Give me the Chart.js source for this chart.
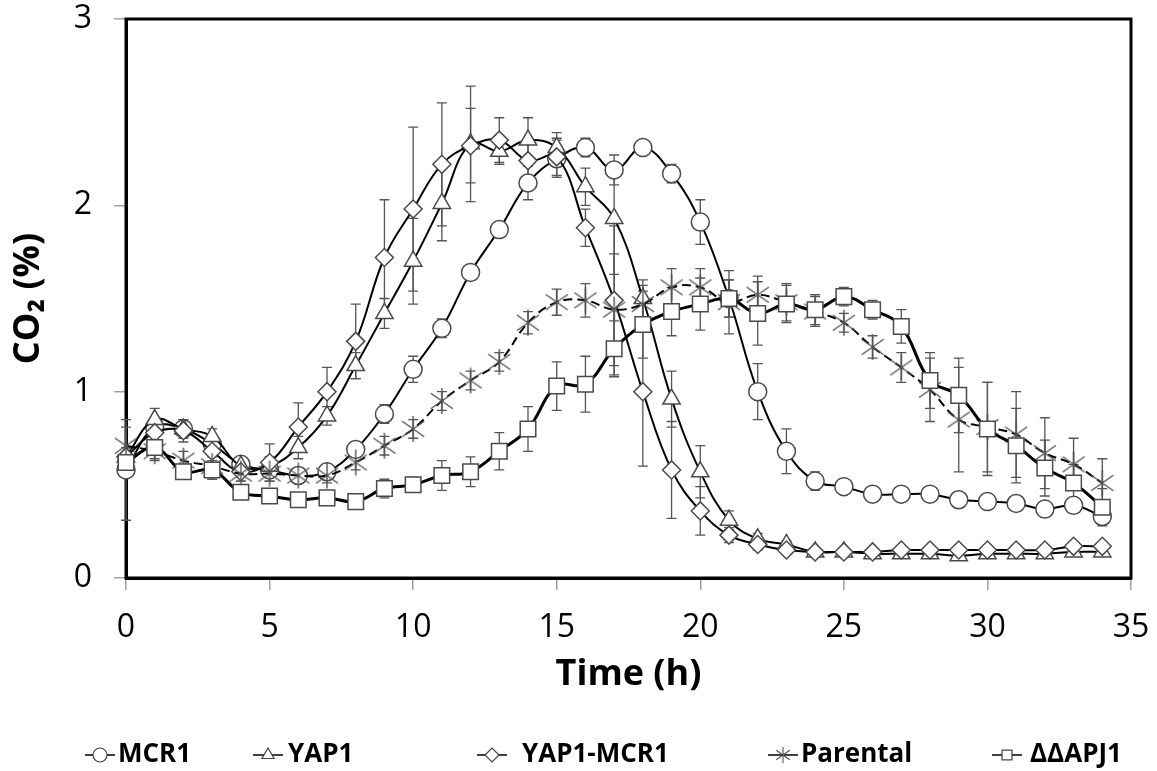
<!DOCTYPE html>
<html>
<head>
<meta charset="utf-8">
<script src="https://cdn.jsdelivr.net/npm/chart.js@4.4.1/dist/chart.umd.min.js"></script>
<style>
html,body{margin:0;padding:0;background:#fff;}
#wrap{width:1157px;height:771px;position:relative;}
</style>
</head>
<body>
<div id="wrap"><canvas id="c"></canvas></div>
<script>
// ---- data ----
const timeHours = [0,1,2,3,4,5,6,7,8,9,10,11,12,13,14,15,16,17,18,19,20,21,22,23,24,25,26,27,28,29,30,31,32,33,34];
const seriesNames = ['MCR1','YAP1','YAP1-MCR1','Parental','ΔΔAPJ1'];
const xTickValues = [0,5,10,15,20,25,30,35];
const yTickValues = [0,1,2,3];

const mcr1 = [0.58,0.81,0.80,0.72,0.61,0.58,0.55,0.57,0.69,0.88,1.12,1.34,1.64,1.87,2.12,2.25,2.31,2.19,2.31,2.17,1.91,1.50,1.00,0.68,0.52,0.49,0.45,0.45,0.45,0.42,0.41,0.40,0.37,0.39,0.33];
const yap1 = [0.65,0.85,0.80,0.76,0.60,0.60,0.70,0.87,1.14,1.42,1.70,2.01,2.33,2.29,2.35,2.31,2.10,1.93,1.50,0.96,0.57,0.31,0.21,0.18,0.14,0.14,0.13,0.13,0.13,0.12,0.13,0.13,0.13,0.14,0.14];
const yap1Mcr1 = [0.65,0.78,0.79,0.68,0.57,0.62,0.81,1.00,1.27,1.72,1.98,2.22,2.32,2.35,2.24,2.26,1.88,1.49,1.00,0.58,0.36,0.23,0.18,0.15,0.14,0.14,0.14,0.15,0.15,0.15,0.15,0.15,0.15,0.17,0.17];
const parental = [0.71,0.68,0.63,0.60,0.56,0.56,0.55,0.55,0.62,0.71,0.80,0.95,1.06,1.16,1.37,1.48,1.49,1.44,1.47,1.56,1.56,1.48,1.52,1.48,1.43,1.37,1.24,1.13,1.01,0.85,0.81,0.77,0.67,0.61,0.51];
const ddapj1 = [0.62,0.70,0.57,0.58,0.46,0.44,0.42,0.43,0.41,0.48,0.50,0.55,0.57,0.68,0.80,1.03,1.04,1.23,1.36,1.43,1.47,1.50,1.42,1.47,1.44,1.51,1.44,1.35,1.06,0.98,0.80,0.71,0.59,0.51,0.38];

const mcr1Err = [0.27,0.05,0.04,0.04,0.03,0.03,0.03,0.03,0.04,0.05,0.07,0.05,0.04,0.04,0.09,0.10,0.05,0.08,0.03,0.05,0.12,0.10,0.15,0.12,0.05,0.03,0.02,0.02,0.02,0.02,0.02,0.02,0.02,0.03,0.03];
const yap1Err = [0.05,0.06,0.05,0.04,0.04,0.05,0.06,0.05,0.07,0.08,0.23,0.20,0.31,0.07,0.12,0.08,0.10,0.30,0.10,0.15,0.14,0.05,0.03,0.02,0.02,0.02,0.02,0.02,0.02,0.02,0.02,0.02,0.02,0.02,0.02];
const yap1Mcr1Err = [0.05,0.05,0.06,0.05,0.05,0.10,0.13,0.13,0.20,0.31,0.44,0.33,0.20,0.12,0.10,0.10,0.10,0.40,0.40,0.26,0.13,0.04,0.03,0.02,0.02,0.02,0.02,0.02,0.02,0.02,0.02,0.02,0.02,0.02,0.02];
const parentalErr = [0.10,0.05,0.05,0.05,0.04,0.04,0.04,0.04,0.04,0.05,0.05,0.05,0.05,0.05,0.06,0.07,0.09,0.30,0.10,0.10,0.10,0.17,0.10,0.10,0.08,0.05,0.06,0.08,0.17,0.28,0.24,0.23,0.19,0.14,0.13];
const ddapj1Err = [0.05,0.06,0.04,0.05,0.03,0.03,0.03,0.03,0.03,0.05,0.04,0.08,0.08,0.10,0.12,0.13,0.15,0.15,0.18,0.13,0.14,0.10,0.17,0.10,0.08,0.05,0.05,0.09,0.15,0.20,0.25,0.20,0.15,0.10,0.10];

// ---- styling helpers ----
const FONT = '"Open Sans", "Noto Sans", sans-serif';
function makeStar(size, color, lw) {
  const c = document.createElement('canvas');
  c.width = size; c.height = size;
  const g = c.getContext('2d');
  g.strokeStyle = color; g.lineWidth = lw;
  const m = size / 2, r = size / 2 - 1;
  g.beginPath();
  g.moveTo(m, m - r); g.lineTo(m, m + r);
  const a = r * 0.85;
  g.moveTo(m - a, m - a * 0.7); g.lineTo(m + a, m + a * 0.7);
  g.moveTo(m - a, m + a * 0.7); g.lineTo(m + a, m - a * 0.7);
  g.stroke();
  return c;
}
const starBig = makeStar(28, '#555', 1.4);
const starSmall = makeStar(18, '#555', 1.1);

function pts(vals) { return vals.map((v, i) => ({x: timeHours[i], y: v})); }

const seriesVals = [mcr1, yap1, yap1Mcr1, parental, ddapj1];
const seriesErr = [mcr1Err, yap1Err, yap1Mcr1Err, parentalErr, ddapj1Err];
const styles = [
  {pointStyle: 'circle', pointRadius: 9, borderWidth: 2, borderDash: [], order: 5},
  {pointStyle: 'triangle', pointRadius: 10, borderWidth: 2, borderDash: [], order: 4},
  {pointStyle: 'rectRot', pointRadius: 9, borderWidth: 2, borderDash: [], order: 3},
  {pointStyle: starBig, pointRadius: 12, borderWidth: 2, borderDash: [9, 5], order: 2, legendStyle: starSmall},
  {pointStyle: 'rect', pointRadius: 11, borderWidth: 3, borderDash: [], order: 1}
];

const datasets = seriesNames.map((name, i) => ({
  label: name,
  data: pts(seriesVals[i]),
  errors: seriesErr[i],
  borderColor: '#000',
  backgroundColor: '#fff',
  borderWidth: styles[i].borderWidth,
  borderDash: styles[i].borderDash,
  tension: 0.4,
  pointStyle: styles[i].pointStyle,
  legendStyle: styles[i].legendStyle,
  pointRadius: styles[i].pointRadius,
  pointBackgroundColor: '#fff',
  pointBorderColor: '#4a4a4a',
  pointBorderWidth: 1.5,
  order: styles[i].order,
  clip: false
}));

// ---- plugins ----
const framePlugin = {
  id: 'frame',
  beforeDatasetsDraw(chart) {
    const {ctx, chartArea: a} = chart;
    ctx.save();
    ctx.strokeStyle = '#000';
    ctx.lineWidth = 3;
    ctx.strokeRect(a.left, a.top, a.right - a.left, a.bottom - a.top);
    ctx.restore();
  }
};

const errorBarPlugin = {
  id: 'errorBars',
  beforeDatasetsDraw(chart) {
    const ctx = chart.ctx;
    const ys = chart.scales.y;
    ctx.save();
    ctx.strokeStyle = '#555';
    ctx.lineWidth = 1.3;
    chart.data.datasets.forEach((ds, di) => {
      const meta = chart.getDatasetMeta(di);
      meta.data.forEach((el, j) => {
        const e = ds.errors[j];
        if (!e) return;
        const v = ds.data[j].y;
        const yTop = ys.getPixelForValue(v + e);
        const yBot = ys.getPixelForValue(v - e);
        const x = el.x;
        ctx.beginPath();
        ctx.moveTo(x, yTop); ctx.lineTo(x, yBot);
        ctx.moveTo(x - 5, yTop); ctx.lineTo(x + 5, yTop);
        ctx.moveTo(x - 5, yBot); ctx.lineTo(x + 5, yBot);
        ctx.stroke();
      });
    });
    ctx.restore();
  }
};

const legendPlugin = {
  id: 'bottomLegend',
  afterDraw(chart, args, opts) {
    const ctx = chart.ctx;
    chart.data.datasets.forEach((ds, i) => {
      const mx = opts.markerX[i], tx = opts.textX[i], y = opts.y;
      ctx.save();
      ctx.strokeStyle = '#000';
      ctx.lineWidth = 1.5;
      ctx.beginPath(); ctx.moveTo(mx - 15, y); ctx.lineTo(mx + 15, y); ctx.stroke();
      ctx.fillStyle = '#fff';
      ctx.strokeStyle = '#444';
      ctx.lineWidth = 1.2;
      Chart.helpers.drawPoint(ctx, {
        pointStyle: ds.legendStyle || ds.pointStyle,
        radius: 7, borderWidth: 1.2, rotation: 0
      }, mx, y);
      ctx.fillStyle = '#000';
      ctx.font = 'bold 26px ' + FONT;
      ctx.textBaseline = 'middle';
      ctx.textAlign = 'left';
      ctx.fillText(ds.label, tx, y);
      ctx.restore();
    });
  }
};

new Chart(document.getElementById('c'), {
  type: 'line',
  data: {datasets},
  plugins: [framePlugin, errorBarPlugin, legendPlugin],
  options: {
    responsive: true,
    maintainAspectRatio: false,
    animation: false,
    layout: {padding: {top: 19, right: 26, bottom: 60, left: 0}},
    plugins: {
      legend: {display: false},
      tooltip: {enabled: false},
      bottomLegend: {
        markerX: [100, 268, 492, 783, 1007],
        textX: [118, 288, 522, 801, 1030],
        y: 755
      }
    },
    scales: {
      x: {
        type: 'linear', min: 0, max: 35,
        afterBuildTicks: s => { s.ticks = xTickValues.map(v => ({value: v})); },
        ticks: {font: {family: FONT, size: 32}, color: '#000', padding: 19, maxRotation: 0},
        grid: {drawOnChartArea: false, drawTicks: true, tickLength: 12, color: '#a0a0a0', lineWidth: 1.5},
        border: {display: true, color: '#000', width: 3},
        title: {display: true, text: 'Time (h)', color: '#000',
                font: {family: FONT, size: 36, weight: 'bold'}, padding: {top: 0, bottom: 15}},
        afterFit: s => { s.height = 133; s.paddingLeft = 0; s.paddingRight = 0; }
      },
      y: {
        min: 0, max: 3,
        afterBuildTicks: s => { s.ticks = yTickValues.map(v => ({value: v})); },
        ticks: {font: {family: FONT, size: 32}, color: '#000', padding: 22},
        grid: {drawOnChartArea: false, drawTicks: true, tickLength: 12, color: '#a0a0a0', lineWidth: 1.5},
        border: {display: true, color: '#000', width: 3},
        title: {display: true, text: 'CO₂ (%)', color: '#000',
                font: {family: FONT, size: 36, weight: 'bold'}, padding: {top: 7, bottom: 0}},
        afterFit: s => { s.width = 126; s.paddingTop = 0; s.paddingBottom = 0; }
      }
    }
  }
});
</script>
</body>
</html>
